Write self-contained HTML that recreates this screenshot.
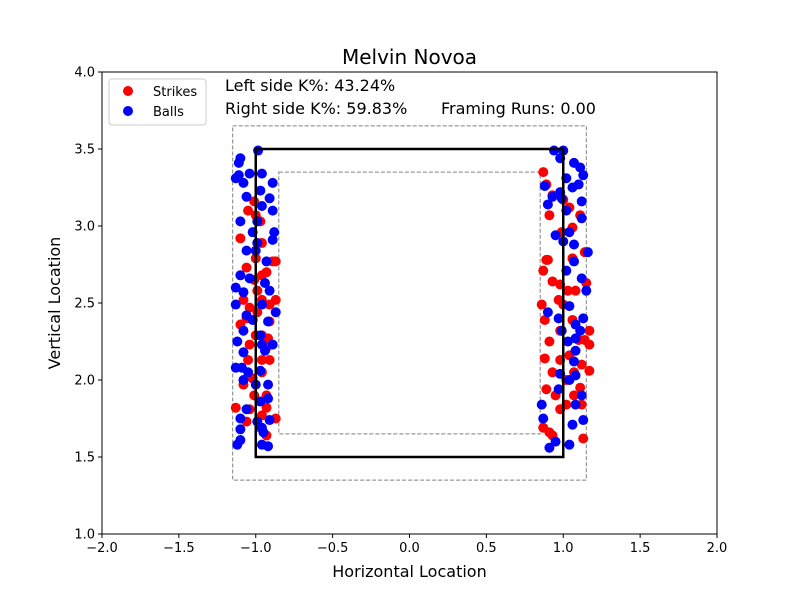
<!DOCTYPE html>
<html><head><meta charset="utf-8"><style>body{margin:0;background:#fff}svg{font-family:"DejaVu Sans","Liberation Sans",sans-serif}</style></head>
<body>
<svg id="chart" width="800" height="600" xmlns="http://www.w3.org/2000/svg">
<rect width="800" height="600" fill="#fff"/>
<text x="409.5" y="64" font-size="20" text-anchor="middle">Melvin Novoa</text>
<g id="ticks"></g>
<g id="zones"></g>
<g id="marks"></g>
<rect x="102" y="72" width="615" height="462" fill="none" stroke="#000" stroke-width="1"/>
<text x="409.5" y="577" font-size="16" text-anchor="middle">Horizontal Location</text>
<text transform="translate(60,303) rotate(-90)" font-size="16" text-anchor="middle">Vertical Location</text>
<text x="225" y="91" font-size="16">Left side K%: 43.24%</text>
<text x="225" y="114" font-size="16">Right side K%: 59.83%</text>
<text x="441" y="114" font-size="16">Framing Runs: 0.00</text>
<g>
<rect x="109" y="79" width="97" height="46" rx="3" fill="#fff" fill-opacity="0.8" stroke="#ccc"/>
<circle cx="128" cy="91" r="5" fill="red"/>
<text x="153" y="96" font-size="13">Strikes</text>
<circle cx="128" cy="111" r="5" fill="blue"/>
<text x="153" y="116" font-size="13">Balls</text>
</g>
</svg>
<script>
const xTicks=[-2,-1.5,-1,-0.5,0,0.5,1,1.5,2];
const xTickLabels=["\u22122.0","\u22121.5","\u22121.0","\u22120.5","0.0","0.5","1.0","1.5","2.0"];
const yTicks=[1,1.5,2,2.5,3,3.5,4];
const yTickLabels=["1.0","1.5","2.0","2.5","3.0","3.5","4.0"];
const strikeX=[-1.01,-1.00,-1.05,-0.97,-1.10,-0.96,-1.00,-0.89,-0.96,-0.87,-1.06,-0.93,-1.01,-0.99,-0.96,-0.91,-0.99,-1.06,-0.91,-0.87,-0.92,-1.00,-1.04,-0.96,-1.10,-0.96,-1.05,-0.91,-1.02,-0.96,-1.08,-0.93,-1.01,-0.93,-1.04,-0.87,-0.96,-1.06,-0.97,-0.93,-1.13,-1.04,-1.08,-0.93,
0.87,0.89,0.93,1.00,1.04,1.11,0.91,1.06,0.99,1.06,1.14,0.90,0.87,0.93,0.98,1.03,0.97,1.00,1.08,1.15,1.06,1.14,1.17,1.10,0.88,0.98,0.91,0.88,0.93,0.98,1.04,1.12,1.17,1.07,1.02,0.89,0.95,1.02,1.12,0.87,0.91,0.93,1.13,0.89,0.86,1.17,1.11,1.07,0.98];
const strikeZ=[3.16,3.07,3.10,3.03,2.92,2.89,2.79,2.77,2.68,2.77,2.73,2.70,2.65,2.58,2.52,2.49,2.44,2.40,2.38,2.52,2.27,2.29,2.23,2.29,2.36,2.13,2.13,2.13,2.01,2.05,1.97,1.90,1.90,1.82,1.81,1.75,1.77,1.73,1.69,1.64,1.82,2.47,2.52,2.21,
3.35,3.27,3.20,3.17,3.12,3.07,3.07,2.99,2.96,2.79,2.83,2.78,2.71,2.64,2.62,2.58,2.52,2.49,2.58,2.63,2.39,2.26,2.32,2.26,2.39,2.32,2.25,2.14,2.05,2.13,2.16,2.10,2.06,2.05,2.00,1.94,1.90,1.84,1.84,1.69,1.66,1.64,1.62,2.78,2.49,2.23,1.95,1.90,1.81];
const ballX=[-0.985,-1.10,-1.11,-1.11,-1.04,-0.96,-0.89,-1.13,-1.08,-0.97,-0.91,-0.96,-1.06,-1.10,-0.99,-0.89,-1.02,-0.88,-0.99,-0.89,-1.00,-0.93,-1.06,-0.94,-0.91,-1.10,-1.13,-1.08,-1.04,-0.96,-0.87,-1.06,-1.13,-1.02,-0.97,-0.92,-1.08,-0.96,-1.12,-0.94,-1.08,-0.89,-1.09,-0.97,-1.13,-1.05,-0.92,-1.00,-1.08,-0.97,-0.92,-1.06,-1.10,-0.99,-0.91,-0.95,-1.10,-0.96,-0.92,-0.96,-1.12,-1.10,
0.94,1.00,0.98,1.07,1.11,1.13,1.10,1.02,0.98,1.06,0.93,0.99,0.90,0.88,1.12,1.02,1.12,1.04,0.95,1.00,1.07,1.07,1.02,1.12,1.16,1.04,1.08,0.97,0.99,1.03,1.08,1.08,1.07,1.11,1.15,1.13,0.98,1.04,1.12,0.97,1.08,0.86,0.87,1.06,1.13,0.95,0.91,1.04,1.08,0.90];
const ballZ=[3.49,3.44,3.41,3.33,3.34,3.34,3.28,3.31,3.28,3.23,3.18,3.13,3.19,3.03,3.03,3.10,2.96,2.96,2.89,2.91,2.84,2.77,2.84,2.63,2.58,2.68,2.60,2.57,2.66,2.49,2.44,2.42,2.49,2.39,2.29,2.38,2.32,2.23,2.25,2.19,2.18,2.23,2.08,2.06,2.08,2.05,1.97,1.97,2.00,1.86,1.88,1.81,1.75,1.73,1.74,1.66,1.61,1.58,1.57,1.69,1.58,1.68,
3.49,3.49,3.44,3.41,3.38,3.33,3.27,3.31,3.22,3.25,3.19,3.18,3.14,3.26,3.16,3.10,3.05,2.96,2.94,2.90,2.88,2.77,2.71,2.66,2.83,2.48,2.36,2.40,2.32,2.25,2.27,2.19,2.12,2.32,2.58,2.40,2.04,2.00,1.90,1.94,1.84,1.84,1.75,1.71,1.74,1.60,1.56,1.58,2.03,2.44];
const NS="http://www.w3.org/2000/svg";
const X0=102,X1=717,Y0=534,Y1=72;
function sx(v){return X0+(v+2)/4*(X1-X0);}
function sy(v){return Y0-(v-1)/3*(Y0-Y1);}
function mk(t,a,p){const e=document.createElementNS(NS,t);for(const k in a)e.setAttribute(k,a[k]);p.appendChild(e);return e;}
const ticks=document.getElementById('ticks');
xTicks.forEach((v,i)=>{
 const l=mk('line',{x1:sx(v),x2:sx(v),y1:Y0,y2:Y0+4,stroke:'#000'},ticks);
 
 
 const t=mk('text',{x:sx(v),y:Y0+18,'font-size':13,'text-anchor':'middle'},ticks);t.textContent=xTickLabels[i];
 
 
});
yTicks.forEach((v,i)=>{
 const l=mk('line',{x1:X0-4,x2:X0,y1:sy(v),y2:sy(v),stroke:'#000'},ticks);
 
 
 const t=mk('text',{x:X0-7,y:sy(v)+4.5,'font-size':13,'text-anchor':'end'},ticks);t.textContent=yTickLabels[i];
 
 
});
const zones=document.getElementById('zones');
function box(x0,x1,z0,z1,a){return mk('rect',Object.assign({x:sx(x0),y:sy(z1),width:sx(x1)-sx(x0),height:sy(z0)-sy(z1),fill:'none'},a),zones);}
const outer=box(-1.15,1.15,1.35,3.65,{stroke:'#808080','stroke-dasharray':'4,2'});


const inner=box(-0.85,0.85,1.65,3.35,{stroke:'#808080','stroke-dasharray':'4,2'});


const marks=document.getElementById('marks');
strikeX.forEach((v,i)=>{
 const c=mk('circle',{cx:sx(v),cy:sy(strikeZ[i]),r:5,fill:'red'},marks);
 
 
});
ballX.forEach((v,i)=>{
 const c=mk('circle',{cx:sx(v),cy:sy(ballZ[i]),r:5,fill:'blue'},marks);
 
 
});
const zone=mk('rect',{x:sx(-1),y:sy(3.5),width:sx(1)-sx(-1),height:sy(1.5)-sy(3.5),fill:'none',stroke:'#000','stroke-width':2.5},marks);


</script>
</body></html>
